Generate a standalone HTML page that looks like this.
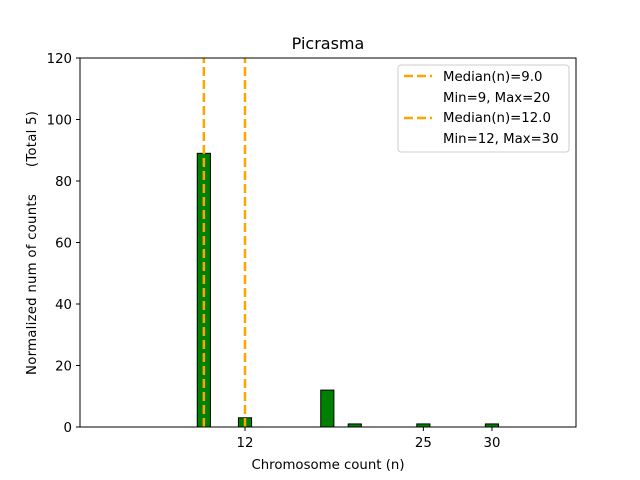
<!DOCTYPE html>
<html><head><meta charset="utf-8"><style>
body{margin:0;background:#fff;}
svg{display:block;font-family:"DejaVu Sans","Liberation Sans",sans-serif;}
</style></head><body>
<svg id="c" width="640" height="480">
<rect width="640" height="480" fill="#fff"/>
<text x="328" y="49" font-size="16" text-anchor="middle">Picrasma</text>
<g id="bars"></g>
<g id="medians"></g>
<rect x="80" y="58" width="496" height="369" fill="none" stroke="#000" stroke-width="1"/>
<g id="yt" font-size="13.3"></g>
<g id="xt" font-size="13.3"></g>
<text x="328" y="469" font-size="13.3" text-anchor="middle">Chromosome count (n)</text>
<text transform="translate(36,243) rotate(-90)" font-size="13.3" text-anchor="middle" style="white-space:pre" textLength="264" lengthAdjust="spacing">Normalized num of counts      (Total 5)</text>
<g>
<rect x="398" y="65" width="171" height="87" rx="3" fill="#fff" stroke="#ccc"/>
<line x1="404" y1="76" x2="432" y2="76" stroke="orange" stroke-width="2.5" stroke-dasharray="9,4"/>
<text x="443" y="81" font-size="13.3">Median(n)=9.0</text>
<text x="443" y="102" font-size="13.3">Min=9, Max=20</text>
<line x1="404" y1="118" x2="432" y2="118" stroke="orange" stroke-width="2.5" stroke-dasharray="9,4"/>
<text x="443" y="122" font-size="13.3">Median(n)=12.0</text>
<text x="443" y="143" font-size="13.3">Min=12, Max=30</text>
</g>
</svg>
<script>
const categories=[9,12,18,20,21,22,23,25,30];
const counts=[89,3,12,1,0,0,0,1,1];
const medians=[9,12];
const yTicks=[0,20,40,60,80,100,120];
const xTicks=[12,25,30];
const NS="http://www.w3.org/2000/svg";
const xs=v=>245+(v-12)*13.72;
const ys=v=>427-v*3.075;
function mk(t,a,p){const e=document.createElementNS(NS,t);for(const k in a)e.setAttribute(k,a[k]);p.appendChild(e);return e;}
const bars=document.getElementById('bars');
categories.forEach((c,i)=>{
 const x0=xs(c-0.48),x1=xs(c+0.48);
 const r=mk('rect',{x:x0,y:ys(counts[i]),width:x1-x0,height:Math.max(0,ys(0)-ys(counts[i])),fill:'green',stroke:'#000','stroke-width':1},bars);
 
 
});
const med=document.getElementById('medians');
medians.forEach(m=>{
 const l=mk('line',{x1:xs(m),x2:xs(m),y1:ys(0),y2:ys(120),stroke:'orange','stroke-width':2.5,'stroke-dasharray':'9,4'},med);
 
 
});
const yt=document.getElementById('yt');
yTicks.forEach(v=>{
 mk('line',{x1:76,x2:80,y1:ys(v),y2:ys(v),stroke:'#000'},yt);
 const t=mk('text',{x:72,y:ys(v)+5,'text-anchor':'end'},yt);t.textContent=v;
 
 
});
const xt=document.getElementById('xt');
xTicks.forEach(v=>{
 mk('line',{x1:xs(v),x2:xs(v),y1:427,y2:431,stroke:'#000'},xt);
 const t=mk('text',{x:xs(v),y:447,'text-anchor':'middle'},xt);t.textContent=v;
 
 
});
</script>
</body></html>
